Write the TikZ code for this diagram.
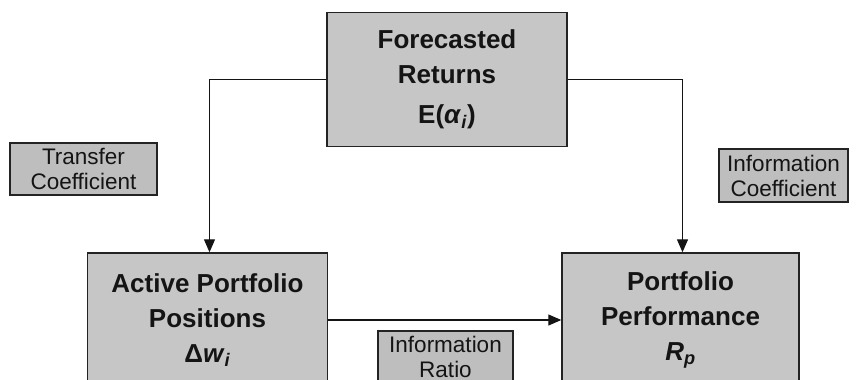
\documentclass[tikz,border=0pt]{standalone}
\usepackage{fontspec}
\setmainfont{Liberation Sans}
\usetikzlibrary{arrows.meta}
\definecolor{boxfill}{RGB}{198,198,198}
\definecolor{smallfill}{RGB}{190,190,190}
\definecolor{edge}{RGB}{35,35,35}
\definecolor{ink}{RGB}{20,20,20}
\begin{document}
\begin{tikzpicture}[x=1pt,y=-1pt,
  bigbox/.style={draw=edge, line width=1.4pt, fill=boxfill, minimum width=240pt, minimum height=134pt, align=center, font=\fontsize{26}{35}\selectfont\bfseries, text=ink, inner sep=0pt},
  smallbox/.style={draw=edge, line width=1.1pt, fill=smallfill, align=center, font=\fontsize{22.5}{25}\selectfont, text=ink, inner sep=0pt},
  link/.style={draw=ink, line width=1.2pt},
  tip/.style={-{Triangle[length=13pt,width=11pt]}}]
\clip (0,0) rectangle (863,380);
\node[bigbox] (top) at (447,79.5) {Forecasted\\Returns\\[5pt]E(\textit{α}\textsubscript{\textit{i}})};
\node[bigbox] (al) at (207.5,320) {Active Portfolio\\Positions\\Δ\textit{w}\textsubscript{\textit{i}}};
\node[bigbox, minimum width=237pt] (pp) at (680.5,320) {Portfolio\\Performance\\\textit{R}\textsubscript{\textit{p}}};
\node[smallbox, minimum width=147pt, minimum height=52pt] (tc) at (83.5,169) {Transfer\\Coefficient};
\node[smallbox, minimum width=129pt, minimum height=53pt] (ic) at (783.5,175.5) {Information\\Coefficient};
\node[smallbox, minimum width=135pt, minimum height=52pt] (ir) at (445.5,357) {Information\\Ratio};
\draw[link,tip] (top.west) -| ([xshift=2pt]al.north);
\draw[link,tip] (top.east) -| ([xshift=2pt]pp.north);
\draw[link,tip] (al.east) -- (pp.west);
\end{tikzpicture}
\end{document}
